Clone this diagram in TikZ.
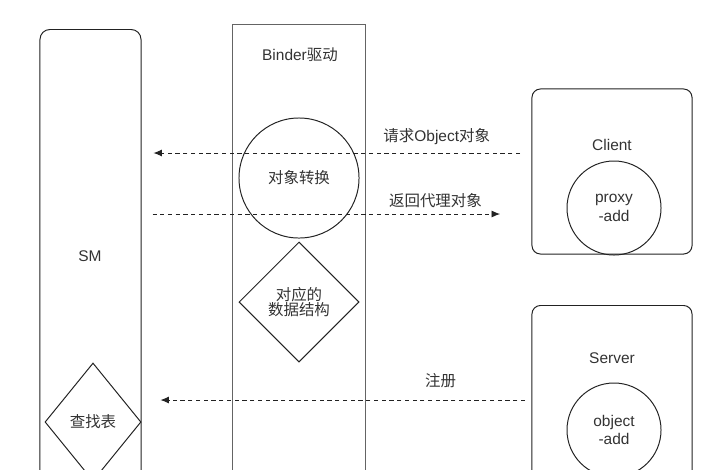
\documentclass[tikz,border=0pt]{standalone}
\usepackage{fontspec}
\setmainfont{Liberation Sans}
\newfontfamily\cjk{Noto Sans CJK SC}
\usepackage{tikz}
\usetikzlibrary{arrows.meta,positioning,shapes.geometric}
\definecolor{ink}{HTML}{222222}
\definecolor{txt}{HTML}{333333}

\begin{document}
\begin{tikzpicture}[
  x=0.025cm, y=-0.025cm,
  every node/.style={font=\fontsize{11}{13}\selectfont, text=txt},
  lane/.style={draw=ink, line width=0.7pt, minimum width=#1, anchor=north},
  card/.style={draw=ink, line width=0.7pt, rounded corners=6pt, minimum width=4cm},
  blob/.style={draw=ink, line width=0.7pt, circle, minimum size=#1, inner sep=0pt, align=center},
  rhomb/.style={draw=ink, line width=0.7pt, diamond, inner sep=0pt, align=center},
  msg/.style={-{Latex[length=6pt,width=5pt]}, dash pattern=on 3pt off 2.5pt, line width=0.6pt, draw=ink}
]
  \useasboundingbox (0,0) rectangle (720,469);

  % SM
  \node[lane=2.525cm, rounded corners=7pt, minimum height=12.3cm] (sm) at (90.5,29) {};
  \node at (90,256) (smlabel) {SM};
  \node[rhomb, minimum width=2.4cm, minimum height=2.95cm] (table) at (93,422) {\cjk 查找表};

  % Binder driver
  \node[lane=3.3cm, draw=ink!70, minimum height=12.4cm] (binder) at (299,24) {};
  \node at (300,55) (binderlabel) {Binder{\cjk 驱动}};
  \node[blob=3cm] (conv) at (299,178) {\cjk 对象转换};
  \node[rhomb, minimum width=3cm, minimum height=3cm] (data) at (299,302) {\cjk 对应的\\[-2pt]\cjk 数据结构};

  % Client
  \node[card, minimum height=4.125cm] (client) at (612,171.5) {};
  \node at (612,145) (clientlabel) {Client};
  \node[blob=2.35cm] (proxy) at (614,208) {proxy\\-add};

  % Server
  \node[card, minimum height=5.4cm, anchor=north] (server) at (612,305) {};
  \node at (612,358) (serverlabel) {Server};
  \node[blob=2.35cm] (object) at (614,430) {object\\-add};

  % messages
  \coordinate (req) at (520,153);
  \coordinate (ret) at (500,214);
  \coordinate (reg) at (525,400);
  \draw[msg, shorten >=0.3cm] (req) -- (sm.east |- req) node[pos=0.22, above=2pt] {{\cjk 请求}Object{\cjk 对象}};
  \draw[msg, shorten <=0.275cm] (sm.east |- ret) -- (ret) node[pos=0.82, above=1pt] {\cjk 返回代理对象};
  \draw[msg, shorten >=0.475cm] (reg) -- (sm.east |- reg) node[pos=0.22, above=5pt] {\cjk 注册};
\end{tikzpicture}
\end{document}
